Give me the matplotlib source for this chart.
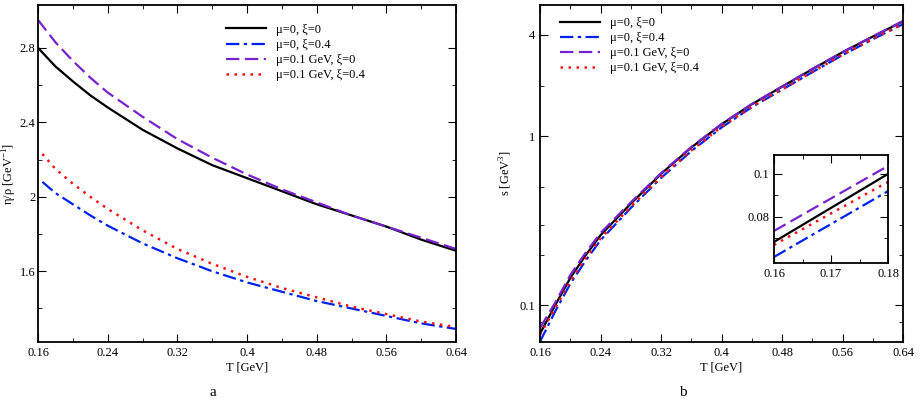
import matplotlib
matplotlib.use("Agg")
import matplotlib.pyplot as plt
from matplotlib.ticker import FixedLocator, NullFormatter

plt.rcParams['font.family'] = ['Liberation Serif', 'DejaVu Serif']
plt.rcParams['mathtext.fontset'] = 'custom'
plt.rcParams['mathtext.rm'] = 'Liberation Serif'

T = [0.16, 0.18, 0.20, 0.22, 0.24, 0.28, 0.32, 0.36, 0.40, 0.44, 0.48, 0.52, 0.56, 0.60, 0.64]
T2 = [0.165, 0.18, 0.20, 0.22, 0.24, 0.28, 0.32, 0.36, 0.40, 0.44, 0.48, 0.52, 0.56, 0.60, 0.64]
eta_m0_x0 = [2.80, 2.70, 2.62, 2.545, 2.48, 2.36, 2.26, 2.17, 2.10, 2.03, 1.96, 1.90, 1.84, 1.77, 1.71]
eta_m0_x4 = [2.08, 2.02, 1.96, 1.90, 1.845, 1.75, 1.67, 1.60, 1.54, 1.49, 1.44, 1.40, 1.36, 1.32, 1.29]
eta_m1_x0 = [2.95, 2.83, 2.73, 2.64, 2.56, 2.43, 2.31, 2.21, 2.12, 2.04, 1.97, 1.90, 1.84, 1.78, 1.72]
eta_m1_x4 = [2.23, 2.15, 2.07, 2.00, 1.935, 1.82, 1.72, 1.64, 1.57, 1.51, 1.46, 1.41, 1.37, 1.33, 1.30]

s_m0_x0 = [0.068, 0.100, 0.145, 0.197, 0.26, 0.40, 0.60, 0.86, 1.18, 1.55, 1.97, 2.50, 3.15, 3.90, 4.80]
s_m0_x4 = [0.061, 0.092, 0.134, 0.183, 0.243, 0.377, 0.568, 0.818, 1.13, 1.49, 1.89, 2.40, 3.03, 3.76, 4.62]
s_m1_x0 = [0.0735, 0.1037, 0.151, 0.204, 0.268, 0.407, 0.606, 0.866, 1.185, 1.555, 1.975, 2.51, 3.16, 3.91, 4.82]
s_m1_x4 = [0.067, 0.0963, 0.139, 0.189, 0.249, 0.384, 0.576, 0.826, 1.14, 1.50, 1.90, 2.41, 3.04, 3.77, 4.64]

Ti = [0.16, 0.18]
si_m0_x0 = [0.0684, 0.100]
si_m0_x4 = [0.0614, 0.092]
si_m1_x0 = [0.0735, 0.1037]
si_m1_x4 = [0.067, 0.0963]

labels = ['μ=0, ξ=0', 'μ=0, ξ=0.4', 'μ=0.1 GeV, ξ=0', 'μ=0.1 GeV, ξ=0.4']
styles = [dict(color='black', ls='-', lw=1.6),
          dict(color='#0022ee', ls=(0, (6, 2, 1.5, 2)), lw=1.6),
          dict(color='#7722cc', ls=(0, (6, 2.5)), lw=1.6),
          dict(color='#ff1111', ls=(0, (1, 2.2)), lw=1.8)]

fig = plt.figure(figsize=(9.22, 4.07), dpi=100)
axL = fig.add_axes([38/922, 1-342/407, 418/922, 337/407])
axR = fig.add_axes([540/922, 1-342/407, 363/922, 337/407])

def style(ax):
    ax.tick_params(direction='in', which='both', top=True, right=True, labelsize=9)
    ax.tick_params(which='major', length=6)
    ax.tick_params(which='minor', length=3)
    for sp in ax.spines.values():
        sp.set_linewidth(1.3)

xt = [0.16, 0.24, 0.32, 0.4, 0.48, 0.56, 0.64]
xtl = ['0.16', '0.24', '0.32', '0.4', '0.48', '0.56', '0.64']

for y, st, lb, tt in zip([eta_m0_x0, eta_m0_x4, eta_m1_x0, eta_m1_x4], styles, labels, [T, T2, T, T2]):
    axL.plot(tt, y, label=lb, **st)
axL.set_xlim(0.16, 0.64)
axL.set_ylim(1.22, 3.03)
axL.set_xticks(xt, xtl)
axL.xaxis.set_minor_locator(FixedLocator([0.20, 0.28, 0.36, 0.44, 0.52, 0.60]))
axL.set_yticks([1.6, 2.0, 2.4, 2.8], ['1.6', '2', '2.4', '2.8'])
axL.yaxis.set_minor_locator(FixedLocator([1.4, 1.8, 2.2, 2.6]))
style(axL)
axL.tick_params(axis='y', pad=2)
axL.set_xlabel('T [GeV]', fontsize=9, labelpad=2)
axL.set_ylabel('η/ρ [GeV$^{-1}$]', fontsize=9)
axL.yaxis.set_label_coords(-0.045, 0.5)
axL.legend(loc='upper left', bbox_to_anchor=(0.43, 0.97), frameon=False, fontsize=9,
           handlelength=3.2, labelspacing=0.25, borderpad=0.2)

for y, st, lb in zip([s_m0_x0, s_m0_x4, s_m1_x0, s_m1_x4], styles, labels):
    axR.plot(T, y, label=lb, **st)
axR.set_yscale('log')
axR.set_xlim(0.16, 0.64)
axR.set_ylim(0.0607, 6.0)
axR.set_xticks(xt, xtl)
axR.xaxis.set_minor_locator(FixedLocator([0.20, 0.28, 0.36, 0.44, 0.52, 0.60]))
axR.yaxis.set_major_locator(FixedLocator([0.1, 1, 4]))
axR.set_yticklabels(['0.1', '1', '4'])
axR.yaxis.set_minor_locator(FixedLocator([0.08, 0.2, 0.3, 0.5, 2]))
axR.yaxis.set_minor_formatter(NullFormatter())
style(axR)
axR.set_xlabel('T [GeV]', fontsize=9, labelpad=2)
axR.set_ylabel('s [GeV$^3$]', fontsize=9)
axR.legend(loc='upper left', bbox_to_anchor=(0.03, 0.99), frameon=False, fontsize=9,
           handlelength=3.2, labelspacing=0.25, borderpad=0.2)

axI = fig.add_axes([774/922, 1-263/407, 114/922, 108/407])
for y, st in zip([si_m0_x0, si_m0_x4, si_m1_x0, si_m1_x4], styles):
    axI.plot(Ti, y, **st)
axI.set_xlim(0.16, 0.18)
axI.set_ylim(0.0586, 0.1088)
axI.set_xticks([0.16, 0.17, 0.18], ['0.16', '0.17', '0.18'])
axI.xaxis.set_minor_locator(FixedLocator([0.165, 0.175]))
axI.set_yticks([0.08, 0.1], ['0.08', '0.1'])
axI.yaxis.set_minor_locator(FixedLocator([0.07, 0.09]))
style(axI)
axI.tick_params(labelsize=9)

fig.text(213/922, 1-393/407, 'a', fontsize=11, ha='center', va='center')
fig.text(683/922, 1-393/407, 'b', fontsize=11, ha='center', va='center')

fig.savefig('out.png', dpi=100)
